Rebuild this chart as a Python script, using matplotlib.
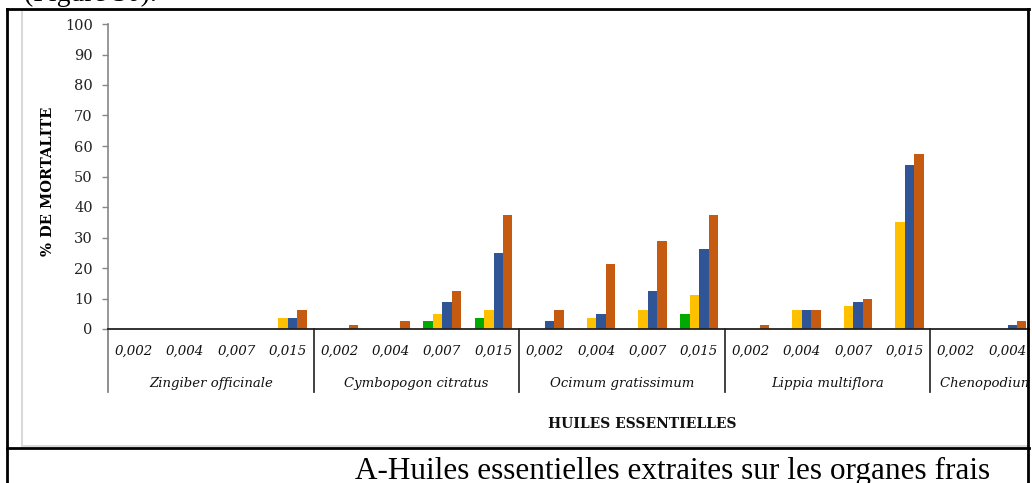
import matplotlib.pyplot as plt
from matplotlib.patches import Rectangle
from matplotlib.lines import Line2D
import matplotlib.transforms as mtransforms
import numpy as np

# data (% mortality)
doses = ["0,002", "0,004", "0,007", "0,015"]
plants = ["Zingiber officinale", "Cymbopogon citratus", "Ocimum gratissimum",
          "Lippia multiflora", "Chenopodium ambrosioides"]
# one value per visible category (Chenopodium 0,007 / 0,015 are cut off)
green  = [0, 0, 0, 0,      0, 0, 2.5, 3.75,   0, 0, 0, 5,         0, 0, 0, 0,        0, 0]
yellow = [0, 0, 0, 3.75,   0, 0, 5, 6.25,     0, 3.75, 6.25, 11.25, 0, 6.25, 7.5, 35, 0, 0]
blue   = [0, 0, 0, 3.75,   0, 0, 8.75, 25,    2.5, 5, 12.5, 26.25, 0, 6.25, 8.75, 53.75, 0, 1.25]
orange = [0, 0, 0, 6.25,   1.25, 2.5, 12.5, 37.5, 6.25, 21.25, 28.75, 37.5, 1.25, 6.25, 10, 57.5, 0, 2.5]
yticks = list(range(0, 101, 10))

colors = ["#00AA00", "#FFC000", "#2F5597", "#C55A11"]
series = [green, yellow, blue, orange]

W, H = 1032, 483
fig = plt.figure(figsize=(W / 100, H / 100), dpi=100)

def fx(px):
    return px / W

def fy(py):
    return 1 - py / H

# axes: x from 108 px, 51.4 px per category, y 0 at 329 px, 100 at 24 px
axw = 51.4 * 20 / W
ax = fig.add_axes([fx(108), fy(329), axw, (329 - 24) / H])
n = len(green)
x = np.arange(n) + 0.5
w = 0.183
for i, (vals, c) in enumerate(zip(series, colors)):
    ax.bar(x + (i - 1.5) * w, vals, width=w, color=c, edgecolor="none", zorder=2)

ax.set_xlim(0, 20)
ax.set_ylim(0, 100)
ax.set_yticks(yticks)
ax.set_yticklabels([str(v) for v in yticks], family="DejaVu Serif", fontsize=10.5, color="#222222")
ax.tick_params(axis="y", length=4, width=1, color="#868686", pad=7)

ax.set_xticks(x)
ax.set_xticklabels([doses[i % 4] for i in range(n)], family="DejaVu Serif",
                   style="italic", fontsize=9.6, color="#111111")
ax.tick_params(axis="x", length=0, pad=11)

for s in ["top", "right"]:
    ax.spines[s].set_visible(False)
ax.spines["left"].set_color("#868686")
ax.spines["left"].set_linewidth(1.2)
ax.spines["bottom"].set_color("#222222")
ax.spines["bottom"].set_linewidth(1.3)

# group separators and group names below the axis
trans = mtransforms.blended_transform_factory(ax.transData, ax.transAxes)
ybot = (329 - 392) / (329 - 24)
for g in range(len(plants)):
    ax.plot([g * 4, g * 4], [0, ybot], transform=trans, color="#333333" if g else "#868686",
            lw=1.3, clip_on=False)
    ax.text(g * 4 + 2, (329 - 383) / (329 - 24), plants[g], transform=trans,
            ha="center", va="center", family="DejaVu Serif", style="italic",
            fontsize=9.5, color="#111111", clip_on=False)

ax.set_ylabel("% DE MORTALITE", family="DejaVu Serif", fontweight="bold", fontsize=10.5)
ax.yaxis.set_label_coords((55 - 108) / (51.4 * 20), 0.485)

fig.text(fx(642), fy(424), "HUILES ESSENTIELLES", ha="center", va="center",
         family="DejaVu Serif", fontweight="bold", fontsize=10, color="#111111")

# document frame around the chart
tf = fig.transFigure
fig.patches.append(Rectangle((fx(1029.5), 0), 1, 1, transform=tf,
                             facecolor="white", edgecolor="none", zorder=20))
grey = "#D9D9D9"
fig.lines.append(Line2D([fx(22), fx(22)], [fy(11), fy(446)], color=grey, lw=1.5,
                        zorder=21, transform=tf))
fig.lines.append(Line2D([fx(22), fx(1028)], [fy(446), fy(446)], color=grey, lw=1.5,
                        zorder=21, transform=tf))
for xs, ys in [([7, 1029], [9, 9]), ([7, 7], [9, 483]), ([1028, 1028], [9, 483]),
               ([7, 1029], [448, 448])]:
    fig.lines.append(Line2D([fx(v) for v in xs], [fy(v) for v in ys],
                            color="black", lw=2.0, zorder=22, transform=tf))

fig.text(fx(24), fy(1), "(Figure 30).", ha="left", va="baseline",
         family="Liberation Serif", fontsize=20, color="black")
fig.text(fx(355), fy(479), "A-Huiles essentielles extraites sur les organes frais",
         ha="left", va="baseline", family="Liberation Serif", fontsize=22.5, color="black")

fig.savefig("out.png", dpi=100)
